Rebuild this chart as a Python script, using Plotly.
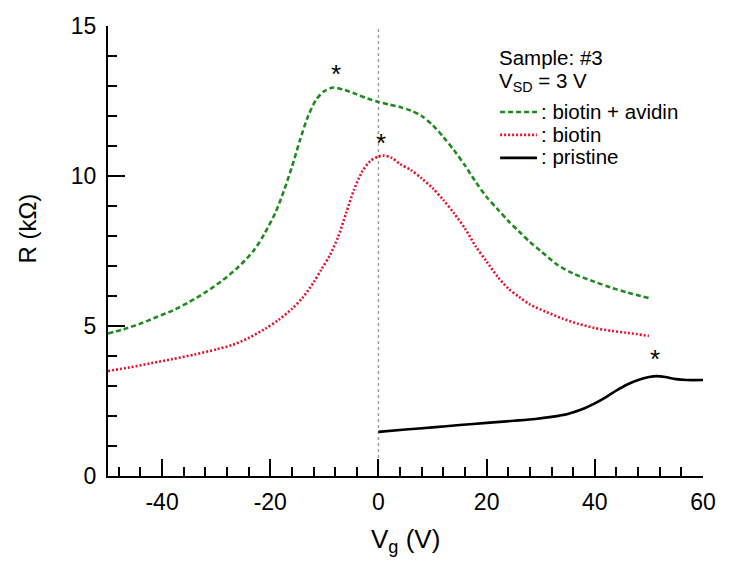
import plotly.graph_objects as go

# ---- data ----
avidin_vg = [-50, -47, -44, -41, -38, -35, -32, -29, -26, -23, -21, -19, -17.5, -16, -14.5, -13,
             -11.5, -10, -8.3, -6.5, -4, -2, 0, 2, 4, 6, 8, 10, 12, 14, 16, 18, 20, 22, 24, 26,
             28, 30, 33, 36, 40, 43, 46, 50]
avidin_r = [4.75, 4.9, 5.08, 5.3, 5.52, 5.8, 6.12, 6.5, 6.95, 7.53, 8.1, 8.8, 9.5, 10.3, 11.2, 12.0,
            12.55, 12.83, 12.95, 12.88, 12.72, 12.58, 12.47, 12.38, 12.3, 12.18, 12.0, 11.7, 11.3,
            10.85, 10.35, 9.8, 9.3, 8.9, 8.5, 8.15, 7.8, 7.5, 7.05, 6.75, 6.47, 6.28, 6.12, 5.93]

biotin_vg = [-50, -46, -42, -38, -34, -30, -27, -24, -21, -18.5, -16, -14, -12, -10.5, -9, -7.5,
             -6, -4.5, -3, -1.5, 0, 1, 2.5, 4, 6, 8, 10, 12, 14, 16, 18, 20, 22, 24, 26, 28, 31,
             34, 37, 40, 43, 46, 50]
biotin_r = [3.5, 3.62, 3.76, 3.9, 4.05, 4.22, 4.37, 4.6, 4.9, 5.2, 5.57, 5.95, 6.45, 6.9, 7.35, 7.95,
            8.75, 9.55, 10.15, 10.5, 10.65, 10.68, 10.6, 10.4, 10.2, 9.92, 9.6, 9.2, 8.75, 8.25,
            7.65, 7.15, 6.65, 6.25, 5.97, 5.72, 5.47, 5.25, 5.07, 4.93, 4.84, 4.77, 4.67]

pristine_vg = [0, 5, 10, 15, 20, 25, 29, 32, 35, 38, 40, 42, 44, 46, 48, 50, 51.5, 53, 55, 57, 60]
pristine_r = [1.47, 1.55, 1.62, 1.7, 1.77, 1.84, 1.9, 1.97, 2.07, 2.25, 2.42, 2.62, 2.85, 3.05, 3.2,
              3.3, 3.33, 3.3, 3.23, 3.2, 3.2]

star_vg = [-7.9, 0.4, 51.1]
star_r = [13.55, 11.25, 4.05]

ref_vg = 0

series_names = [": biotin + avidin", ": biotin", ": pristine"]
legend_title_lines = ["Sample: #3", "V<sub>SD</sub> = 3 V"]

x_title = "V<sub>g</sub> (V)"
y_title = "R (kΩ)"

x_range = [-50, 60]
y_range = [0, 15]
x_ticks = [-40, -20, 0, 20, 40, 60]
x_tick_labels = ["-40", "-20", "0", "20", "40", "60"]
y_ticks = [0, 5, 10, 15]
y_tick_labels = ["0", "5", "10", "15"]

FONT = "Arial, Liberation Sans, Helvetica, sans-serif"
colors = ["#1f8a1f", "#e8112d", "black"]
dashes = ["5px,3px", "2px,2px", "solid"]

fig = go.Figure()

data = [(avidin_vg, avidin_r), (biotin_vg, biotin_r), (pristine_vg, pristine_r)]
for (xs, ys), name, c, d in zip(data, series_names, colors, dashes):
    fig.add_trace(go.Scatter(x=xs, y=ys, mode="lines", name=name, showlegend=False,
                             line=dict(color=c, width=2.6, dash=d, shape="spline", smoothing=0.8)))

fig.add_vline(x=ref_vg, line=dict(color="#a0a0a0", width=1.5, dash="dot"), layer="below")

for sx, sy in zip(star_vg, star_r):
    fig.add_annotation(x=sx, y=sy, text="*", showarrow=False, yshift=-4,
                       font=dict(family=FONT, size=26, color="black"))

# ---- hand-drawn legend (text + sample lines) ----
LEG_FONT = dict(family=FONT, size=20.5, color="black")
title_y = [0.929, 0.876]
for t, yy in zip(legend_title_lines, title_y):
    fig.add_annotation(xref="paper", yref="paper", x=0.654, y=yy, text=t, showarrow=False,
                       xanchor="left", yanchor="middle", font=LEG_FONT)
item_y = [0.809, 0.758, 0.707]
for name, c, d, yy in zip(series_names, colors, dashes, item_y):
    fig.add_shape(type="line", xref="paper", yref="paper", x0=0.659, x1=0.721, y0=yy, y1=yy,
                  line=dict(color=c, width=2.6, dash=d))
    fig.add_annotation(xref="paper", yref="paper", x=0.724, y=yy + 0.002, text=name, showarrow=False,
                       xanchor="left", yanchor="middle", font=LEG_FONT)

# ---- axis titles ----
fig.add_annotation(xref="paper", yref="paper", x=0.5, y=-0.102, text=x_title, showarrow=False,
                   xanchor="center", yanchor="top", font=dict(family=FONT, size=26, color="black"))
fig.add_annotation(xref="paper", yref="paper", x=-0.136, y=0.55, text=y_title, showarrow=False,
                   textangle=-90, xanchor="center", yanchor="middle",
                   font=dict(family=FONT, size=24, color="black"))

axis_common = dict(
    showgrid=False, zeroline=False, showline=True, linecolor="black", linewidth=2,
    ticks="inside", ticklen=17, tickwidth=2, tickcolor="black",
    tickfont=dict(family=FONT, size=23, color="black"),
    mirror=False, automargin=False,
)

fig.update_xaxes(range=x_range, tickvals=x_ticks, ticktext=x_tick_labels, ticklabelstandoff=4,
                 **axis_common,
                 minor=dict(ticks="inside", ticklen=9, tickwidth=2, tickcolor="black", dtick=4, tick0=0))
fig.update_yaxes(range=y_range, tickvals=y_ticks, ticktext=y_tick_labels, ticklabelstandoff=5,
                 **axis_common,
                 minor=dict(ticks="inside", ticklen=9, tickwidth=2, tickcolor="black", dtick=1, tick0=0))

fig.update_layout(
    width=724, height=558,
    margin=dict(l=100, r=29, t=18, b=90, autoexpand=False),
    paper_bgcolor="white", plot_bgcolor="white",
    font=dict(family=FONT, color="black"),
    showlegend=False,
)

fig.write_html("out.html")
